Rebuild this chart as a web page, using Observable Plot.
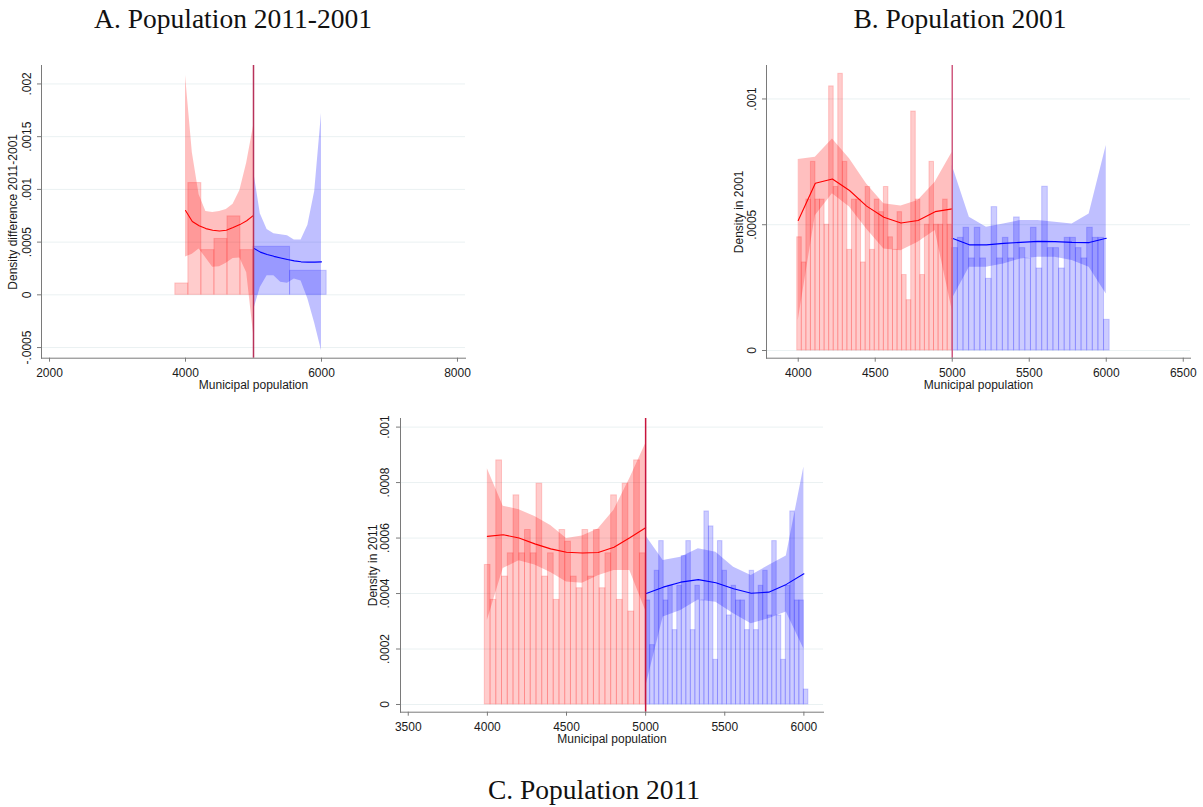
<!DOCTYPE html>
<html><head><meta charset="utf-8">
<script src="https://cdn.jsdelivr.net/npm/d3@7"></script>
<script src="https://cdn.jsdelivr.net/npm/@observablehq/plot@0.6"></script>
<style>
body{margin:0;background:#fff;}
#root{position:relative;width:1203px;height:807px;overflow:hidden;background:#fff;}
.title{position:absolute;font-family:"Liberation Serif",serif;font-size:27.5px;line-height:27.5px;color:#111;white-space:nowrap;transform:translateX(-50%);}
.panel{position:absolute;}
</style></head><body><div id="root"></div>
<script>
// ---------- shared ----------
const cutoff = 5000;
const xLabel = "Municipal population";

// ---------- Panel A: Population 2011-2001 ----------
const titleA = "A. Population 2011-2001";
const yLabelA = "Density difference 2011-2001";
const xTicksA = [2000, 4000, 6000, 8000];
const yTicksA = [-0.0005, 0, 0.0005, 0.001, 0.0015, 0.002];
const yTickLabelsA = ["-.0005", "0", ".0005", ".001", ".0015", ".002"];
const histRedEdgesA = [3850, 4042, 4233, 4425, 4617, 4808, 5000];
const histRedA = [0.000108, 0.00106, 0.000424, 0.00053, 0.000744, 0.000424];
const histBlueEdgesA = [5000, 5538, 6076];
const histBlueA = [0.000456, 0.000228];
const fitRedXA = [4000, 4100, 4200, 4300, 4400, 4500, 4600, 4700, 4800, 4900, 5000];
const fitRedA = [0.0008, 0.000696, 0.000655, 0.000628, 0.000612, 0.000606, 0.000612, 0.000638, 0.000666, 0.000703, 0.000753];
const fitRedHiA = [0.00208, 0.00135, 0.00095, 0.00079, 0.00078, 0.00079, 0.00081, 0.00086, 0.00099, 0.00125, 0.0016];
const fitRedLoA = [0.000358, 0.000385, 0.000435, 0.00035, 0.000262, 0.000266, 0.0003, 0.000345, 0.00035, 0.00021, -0.00037];
const fitBlueXA = [5000, 5100, 5200, 5300, 5400, 5500, 5600, 5700, 5800, 5900, 6000];
const fitBlueA = [0.000443, 0.000405, 0.000383, 0.000365, 0.00035, 0.000335, 0.000322, 0.000313, 0.00031, 0.00031, 0.000313];
const fitBlueHiA = [0.00118, 0.00077, 0.00062, 0.00058, 0.00057, 0.00056, 0.00052, 0.00052, 0.00066, 0.00098, 0.00172];
const fitBlueLoA = [-0.00015, 0.00007, 0.00018, 0.00018, 0.00012, 0.00011, 0.00015, 0.00013, -0.00004, -0.00027, -0.00053];

// ---------- Panel B: Population 2001 ----------
const titleB = "B. Population 2001";
const yLabelB = "Density in 2001";
const xTicksB = [4000, 4500, 5000, 5500, 6000, 6500];
const yTicksB = [0, 0.0005, 0.001];
const yTickLabelsB = ["0", ".0005", ".001"];
const histRedStartB = 3993.6, histRedWidthB = 29.6;
const histRedB = [0.00045, 0.00035, 0.0006, 0.00075, 0.0006, 0.0006, 0.0005, 0.00105, 0.00065, 0.0011, 0.00075, 0.0004, 0.0006, 0.0006, 0.00035, 0.00065, 0.0004, 0.0006, 0.00055, 0.00065, 0.00045, 0.0004, 0.00055, 0.0003, 0.0002, 0.00095, 0.0006, 0.0003, 0.0005, 0.00075, 0.0005, 0.0005, 0.0006, 0.0005];
const histBlueStartB = 5000, histBlueWidthB = 36.5;
const histBlueB = [0.000407, 0.000448, 0.000488, 0.000366, 0.000488, 0.000366, 0.000285, 0.00057, 0.000366, 0.000448, 0.000366, 0.000529, 0.000407, 0.000366, 0.000488, 0.000326, 0.000651, 0.000407, 0.000407, 0.000326, 0.000448, 0.000448, 0.000407, 0.000366, 0.000488, 0.000448, 0.000448, 0.000122];
const fitRedXB = [4000, 4111, 4222, 4333, 4444, 4556, 4667, 4778, 4889, 5000];
const fitRedB = [0.000517, 0.000665, 0.000682, 0.000636, 0.000574, 0.00053, 0.000507, 0.000517, 0.000552, 0.000563];
const fitRedHiB = [0.000759, 0.000768, 0.000841, 0.000762, 0.000662, 0.000583, 0.000574, 0.000596, 0.000669, 0.000788];
const fitRedLoB = [0.000119, 0.000536, 0.000623, 0.00057, 0.000483, 0.000404, 0.000397, 0.00043, 0.000477, 0.000159];
const fitBlueXB = [5000, 5111, 5222, 5333, 5444, 5556, 5667, 5778, 5889, 6000];
const fitBlueB = [0.000446, 0.00042, 0.00042, 0.000426, 0.00043, 0.000434, 0.000433, 0.00043, 0.000429, 0.000446];
const fitBlueHiB = [0.000735, 0.00053, 0.00049, 0.000503, 0.000517, 0.000517, 0.00051, 0.000503, 0.000543, 0.000815];
const fitBlueLoB = [0.000205, 0.000331, 0.000331, 0.000344, 0.000364, 0.000371, 0.000371, 0.000358, 0.000331, 0.000225];

// ---------- Panel C: Population 2011 ----------
const titleC = "C. Population 2011";
const yLabelC = "Density in 2011";
const xTicksC = [3500, 4000, 4500, 5000, 5500, 6000];
const yTicksC = [0, 0.0002, 0.0004, 0.0006, 0.0008, 0.001];
const yTickLabelsC = ["0", ".0002", ".0004", ".0006", ".0008", ".001"];
const histRedStartC = 3983.6, histRedWidthC = 36.3;
const histRedC = [0.000503, 0.000377, 0.00088, 0.000461, 0.000545, 0.000754, 0.000545, 0.000629, 0.000545, 0.000796, 0.000461, 0.000545, 0.000377, 0.000629, 0.000587, 0.000461, 0.000419, 0.000629, 0.000461, 0.000629, 0.000419, 0.000545, 0.000754, 0.000377, 0.000796, 0.000335, 0.00088, 0.000545];
const histBlueStartC = 5000, histBlueWidthC = 28.57;
const histBlueC = [0.000375, 0.000214, 0.000482, 0.000589, 0.000375, 0.000428, 0.000268, 0.000428, 0.000535, 0.000589, 0.000268, 0.000428, 0.000375, 0.000696, 0.000642, 0.000161, 0.000589, 0.000482, 0.000321, 0.000428, 0.000375, 0.000375, 0.000268, 0.000482, 0.000268, 0.000428, 0.000482, 0.000321, 0.000589, 0.000321, 0.000161, 0.000428, 0.000696, 0.000375, 0.000375, 0.000054];
const fitRedXC = [4000, 4100, 4200, 4300, 4400, 4500, 4600, 4700, 4800, 4900, 5000];
const fitRedC = [0.000606, 0.000612, 0.0006, 0.000579, 0.000561, 0.000549, 0.000546, 0.000548, 0.000567, 0.000601, 0.000637];
const fitRedHiC = [0.00085, 0.000715, 0.000702, 0.000678, 0.000645, 0.000598, 0.000607, 0.000633, 0.0007, 0.000815, 0.00094];
const fitRedLoC = [0.000303, 0.00049, 0.000518, 0.000503, 0.000476, 0.000442, 0.000437, 0.000464, 0.000483, 0.000483, 0.000339];
const fitBlueXC = [5000, 5111, 5222, 5333, 5444, 5556, 5667, 5778, 5889, 6000];
const fitBlueC = [0.000399, 0.000423, 0.000441, 0.00045, 0.000439, 0.000417, 0.000401, 0.000405, 0.000433, 0.000471];
const fitBlueHiC = [0.000609, 0.000519, 0.000531, 0.000561, 0.000549, 0.000495, 0.000465, 0.000501, 0.000535, 0.000856];
const fitBlueLoC = [0.0000625, 0.000315, 0.000339, 0.000377, 0.000369, 0.000327, 0.000291, 0.000309, 0.000333, 0.0002];

// ---------- helpers ----------
const RED = "#ff0000", BLUE = "#0000ff";
const GRID = "#eaf1f2", AXIS = "#7a7a7a", TEXT = "#1a1a1a";
const FONT = "Liberation Sans, Arial, sans-serif";

function binsFromEdges(edges, vals) { return vals.map((v, i) => ({x1: edges[i], x2: edges[i + 1], y: v})); }
function binsRegular(start, w, vals) { return vals.map((v, i) => ({x1: start + w * i, x2: start + w * (i + 1), y: v})); }
function fitRows(xs, ys, lo, hi) { return xs.map((x, i) => ({x, y: ys[i], lo: lo[i], hi: hi[i]})); }

function panel(c) {
  const marks = [
    Plot.ruleY(c.yTicks, {stroke: GRID, strokeWidth: 1}),
    Plot.rect(c.redBins, {x1: "x1", x2: "x2", y1: 0, y2: "y", fill: RED, fillOpacity: 0.2, stroke: RED, strokeOpacity: 0.18, strokeWidth: 1}),
    Plot.rect(c.blueBins, {x1: "x1", x2: "x2", y1: 0, y2: "y", fill: BLUE, fillOpacity: 0.2, stroke: BLUE, strokeOpacity: 0.18, strokeWidth: 1}),
    Plot.areaY(c.redFit, {x: "x", y1: "lo", y2: "hi", fill: RED, fillOpacity: 0.25}),
    Plot.areaY(c.blueFit, {x: "x", y1: "lo", y2: "hi", fill: BLUE, fillOpacity: 0.25}),
    Plot.line(c.redFit, {x: "x", y: "y", stroke: RED, strokeWidth: 1.1}),
    Plot.line(c.blueFit, {x: "x", y: "y", stroke: BLUE, strokeWidth: 1.1}),
    Plot.ruleX([cutoff], {stroke: c.cutColor, strokeWidth: 1.5}),
    Plot.frame({anchor: "left", stroke: AXIS}),
    Plot.frame({anchor: "bottom", stroke: AXIS}),
    Plot.axisX(c.xTicks, {tickSize: 4, tickFormat: () => "", stroke: AXIS}),
    Plot.axisY(c.yTicks, {tickSize: 4, tickFormat: () => "", stroke: AXIS}),
    Plot.text(c.xTicks, {x: d => d, frameAnchor: "bottom", dy: 15, text: d => String(d), fontSize: 12, lineAnchor: "middle", fill: TEXT}),
    Plot.text(c.yTicks, {y: d => d, frameAnchor: "left", dx: c.yTickDx, rotate: -90, text: (d, i) => c.yTickLabels[i], fontSize: 12, lineAnchor: "middle", textAnchor: "middle", fill: TEXT}),
    Plot.text([c.yLabel], {frameAnchor: "left", dx: c.yLabelDx, rotate: -90, text: d => d, fontSize: 12, lineAnchor: "middle", textAnchor: "middle", fill: TEXT}),
    Plot.text([xLabel], {frameAnchor: "bottom", dy: 27, text: d => d, fontSize: 12, lineAnchor: "middle", textAnchor: "middle", fill: TEXT})
  ];
  return Plot.plot({
    width: c.width, height: c.height,
    marginLeft: c.ml, marginRight: c.mr, marginTop: c.mt, marginBottom: c.mb,
    x: {domain: c.xDomain, axis: null},
    y: {domain: c.yDomain, axis: null},
    style: {fontFamily: FONT, fontSize: "12px", background: "transparent", overflow: "visible"},
    marks
  });
}

const root = document.getElementById("root");
function place(el, left, top) { el.classList.add("panel"); el.style.left = left + "px"; el.style.top = top + "px"; root.appendChild(el); }
function title(text, cx, top) { const d = document.createElement("div"); d.className = "title"; d.textContent = text; d.style.left = cx + "px"; d.style.top = top + "px"; root.appendChild(d); }

place(panel({
  width: 480, height: 350, ml: 41, mr: 15, mt: 15, mb: 42.3,
  xDomain: [1882, 8118], yDomain: [-0.000601, 0.002175],
  xTicks: xTicksA, yTicks: yTicksA, yTickLabels: yTickLabelsA, yLabel: yLabelA,
  yTickDx: -14, yLabelDx: -28, cutColor: "#b8325a",
  redBins: binsFromEdges(histRedEdgesA, histRedA), blueBins: binsFromEdges(histBlueEdgesA, histBlueA),
  redFit: fitRows(fitRedXA, fitRedA, fitRedLoA, fitRedHiA), blueFit: fitRows(fitBlueXA, fitBlueA, fitBlueLoA, fitBlueHiA)
}), 0, 50);

place(panel({
  width: 483, height: 350, ml: 46, mr: 13, mt: 15, mb: 42.3,
  xDomain: [3794, 6547], yDomain: [-0.0000306, 0.001133],
  xTicks: xTicksB, yTicks: yTicksB, yTickLabels: yTickLabelsB, yLabel: yLabelB,
  yTickDx: -14, yLabelDx: -27, cutColor: "#d05a80",
  redBins: binsRegular(histRedStartB, histRedWidthB, histRedB), blueBins: binsRegular(histBlueStartB, histBlueWidthB, histBlueB),
  redFit: fitRows(fitRedXB, fitRedB, fitRedLoB, fitRedHiB), blueFit: fitRows(fitBlueXB, fitBlueB, fitBlueLoB, fitBlueHiB)
}), 720, 50);

place(panel({
  width: 480, height: 355, ml: 50, mr: 7, mt: 18, mb: 43.3,
  xDomain: [3451, 6124], yDomain: [-0.0000278, 0.001031],
  xTicks: xTicksC, yTicks: yTicksC, yTickLabels: yTickLabelsC, yLabel: yLabelC,
  yTickDx: -15, yLabelDx: -27, cutColor: "#c8143c",
  redBins: binsRegular(histRedStartC, histRedWidthC, histRedC), blueBins: binsRegular(histBlueStartC, histBlueWidthC, histBlueC),
  redFit: fitRows(fitRedXC, fitRedC, fitRedLoC, fitRedHiC), blueFit: fitRows(fitBlueXC, fitBlueC, fitBlueLoC, fitBlueHiC)
}), 350, 400);

title(titleA, 233, 5);
title(titleB, 960, 5);
title(titleC, 594, 776);
</script></body></html>
